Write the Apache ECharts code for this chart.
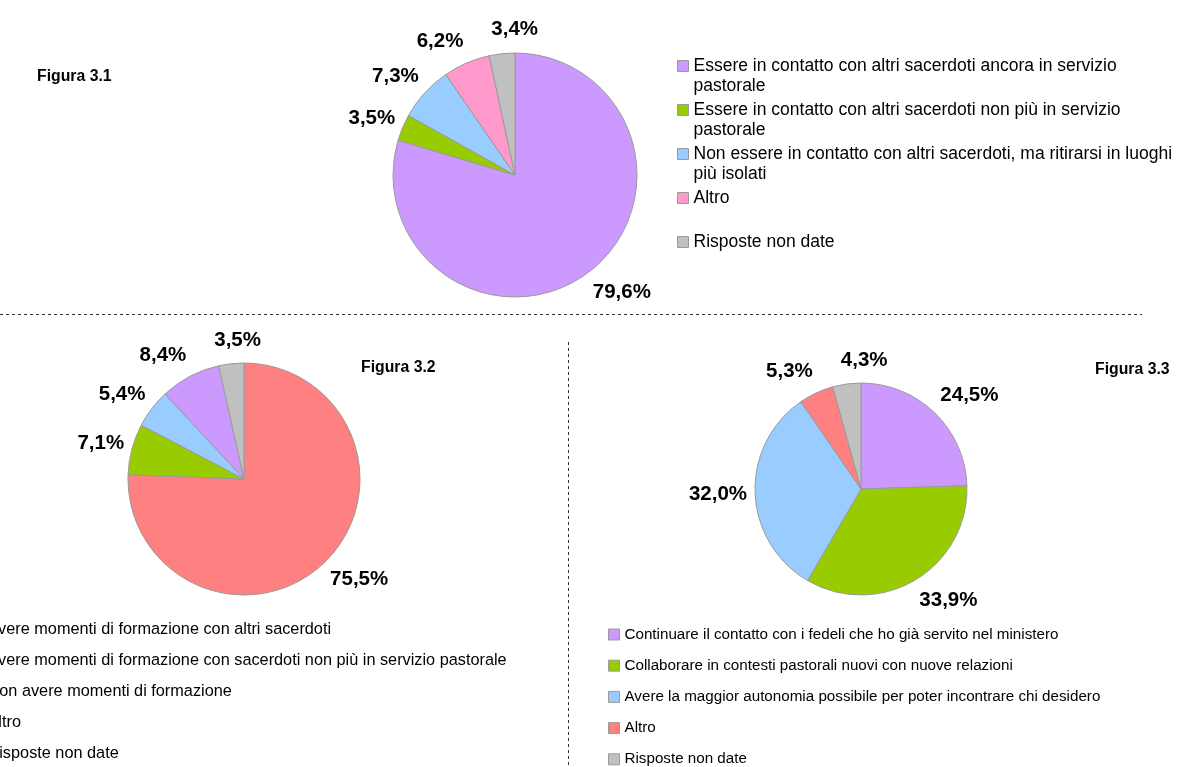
<!DOCTYPE html>
<html>
<head>
<meta charset="utf-8">
<script src="https://cdn.jsdelivr.net/npm/echarts@6/dist/echarts.min.js"></script>
<style>
  html, body { margin: 0; padding: 0; background: #ffffff; }
  #chart { width: 1182px; height: 767px; }
</style>
</head>
<body>
<div id="chart"></div>
<script>
// Figura 3.1
const cat31 = [
  'Essere in contatto con altri sacerdoti ancora in servizio pastorale',
  'Essere in contatto con altri sacerdoti non più in servizio pastorale',
  'Non essere in contatto con altri sacerdoti, ma ritirarsi in luoghi più isolati',
  'Altro',
  'Risposte non date'
];
const val31 = [79.6, 3.5, 7.3, 6.2, 3.4];
const col31 = ['#CC99FF', '#99CC00', '#99CCFF', '#FF99CC', '#C0C0C0'];

// Figura 3.2
const cat32 = [
  'Avere momenti di formazione con altri sacerdoti',
  'Avere momenti di formazione con sacerdoti non più in servizio pastorale',
  'Non avere momenti di formazione',
  'Altro',
  'Risposte non date'
];
const val32 = [75.5, 7.1, 5.4, 8.4, 3.5];
const col32 = ['#FF8080', '#99CC00', '#99CCFF', '#CC99FF', '#C0C0C0'];

// Figura 3.3
const cat33 = [
  'Continuare il contatto con i fedeli che ho già servito nel ministero',
  'Collaborare in contesti pastorali nuovi con nuove relazioni',
  'Avere la maggior autonomia possibile per poter incontrare chi desidero',
  'Altro',
  'Risposte non date'
];
const val33 = [24.5, 33.9, 32.0, 5.3, 4.3];
const col33 = ['#CC99FF', '#99CC00', '#99CCFF', '#FF8080', '#C0C0C0'];

const titles = ['Figura 3.1', 'Figura 3.2', 'Figura 3.3'];

const FONT = '"Liberation Sans", Arial, sans-serif';
const BORDER = '#9a9a9a';
const LABEL_SIZE = 20.5;

// Percent label with a decimal comma
function pct(v) { return v.toFixed(1).replace('.', ',') + '%'; }

const measureCtx = document.createElement('canvas').getContext('2d');
function textWidth(text, size, weight) {
  measureCtx.font = (weight ? weight + ' ' : '') + size + 'px ' + FONT;
  return measureCtx.measureText(text).width;
}

function clamp1(v) { return Math.max(-1, Math.min(1, v)); }

// Value labels sit just outside the rim along the slice's mid-angle ray,
// with the label box pushed sideways so it clears the circle; a label that
// would collide with one already placed is slid sideways until there is room.
function placeLabels(values, cx, cy, r) {
  const total = values.reduce((a, b) => a + b, 0);
  const h = 17, spacing = 28;
  const placed = [];
  let before = 0;
  values.forEach((v) => {
    const mid = (before + v / 2) / total * Math.PI * 2;
    before += v;
    const ux = Math.sin(mid), uy = -Math.cos(mid);
    const w = textWidth(pct(v), LABEL_SIZE, 'bold');
    let x = cx + ux * (r + 8) + clamp1(ux * 3) * w / 2;
    const y = cy + uy * (r + 24);
    placed.forEach((o) => {
      const need = (w + o.w) / 2 + spacing;
      if (Math.abs(y - o.y) < h && Math.abs(x - o.x) < need) {
        x = x >= o.x ? o.x + need : o.x - need;
      }
    });
    placed.push({ x, y, w });
  });
  return placed;
}

function pieSeries(names, values, colors, cx, cy, r) {
  const spots = placeLabels(values, cx, cy, r);
  return {
    type: 'pie',
    center: [cx, cy],
    radius: [0, r],
    startAngle: 90,
    clockwise: true,
    avoidLabelOverlap: false,
    animation: false,
    emphasis: { disabled: true },
    itemStyle: { borderColor: BORDER, borderWidth: 1 },
    label: {
      show: true,
      position: 'outside',
      formatter: (p) => pct(p.value),
      fontFamily: FONT,
      fontSize: LABEL_SIZE,
      fontWeight: 'bold',
      color: '#000',
      lineHeight: 17
    },
    labelLine: { show: false },
    labelLayout: (p) => ({
      x: spots[p.dataIndex].x,
      y: spots[p.dataIndex].y,
      align: 'center',
      verticalAlign: 'middle'
    }),
    data: names.map((n, i) => ({ name: n, value: values[i], itemStyle: { color: colors[i] } }))
  };
}

function legendData(names, colors) {
  return names.map((n, i) => ({
    name: n,
    icon: 'rect',
    itemStyle: { color: colors[i], borderColor: BORDER, borderWidth: 1 }
  }));
}

// Legend of Figura 3.1: entries wrap to two lines and every entry takes the
// same three-line slot, so the marker lines up with the first text line.
const topWrap = 485, topSize = 17.5, topLine = 20;
function topLegendText(name) {
  const twoLines = textWidth(name, topSize) > topWrap;
  return '\n' + name + (twoLines ? '' : '\n\u00a0');
}

const chart = echarts.init(document.getElementById('chart'), null, { renderer: 'canvas' });

chart.setOption({
  backgroundColor: '#ffffff',
  animation: false,
  title: [
    { text: titles[0], left: 37, top: 68 },
    { text: titles[1], left: 361, top: 359 },
    { text: titles[2], left: 1095, top: 361 }
  ].map((t) => Object.assign(t, {
    padding: 0,
    textStyle: { fontFamily: FONT, fontSize: 15.8, fontWeight: 'bold', color: '#000', lineHeight: 18 }
  })),
  legend: [
    {
      orient: 'vertical',
      left: 677, top: 36,
      padding: 0,
      itemWidth: 11, itemHeight: 11,
      itemGap: -16,
      selectedMode: false,
      formatter: topLegendText,
      textStyle: {
        fontFamily: FONT, fontSize: topSize, color: '#000',
        lineHeight: topLine, width: topWrap, overflow: 'break'
      },
      data: legendData(cat31, col31)
    },
    {
      orient: 'vertical',
      left: -29, top: 621,
      padding: 0,
      itemWidth: 11, itemHeight: 11,
      itemGap: 13,
      selectedMode: false,
      textStyle: { fontFamily: FONT, fontSize: 16.3, color: '#000', lineHeight: 18 },
      data: legendData(cat32, col32)
    },
    {
      orient: 'vertical',
      left: 608, top: 627,
      padding: 0,
      itemWidth: 11, itemHeight: 11,
      itemGap: 16.2,
      selectedMode: false,
      textStyle: { fontFamily: FONT, fontSize: 15.2, color: '#000', lineHeight: 14 },
      data: legendData(cat33, col33)
    }
  ],
  graphic: [
    {
      type: 'line', silent: true,
      shape: { x1: 0, y1: 314.5, x2: 1142, y2: 314.5 },
      style: { stroke: '#333', lineWidth: 1, lineDash: [3, 3] }
    },
    {
      type: 'line', silent: true,
      shape: { x1: 568.5, y1: 342, x2: 568.5, y2: 767 },
      style: { stroke: '#333', lineWidth: 1, lineDash: [3, 3] }
    }
  ],
  series: [
    pieSeries(cat31, val31, col31, 515, 175, 122),
    pieSeries(cat32, val32, col32, 244, 479, 116),
    pieSeries(cat33, val33, col33, 861, 489, 106)
  ]
});
</script>
</body>
</html>
